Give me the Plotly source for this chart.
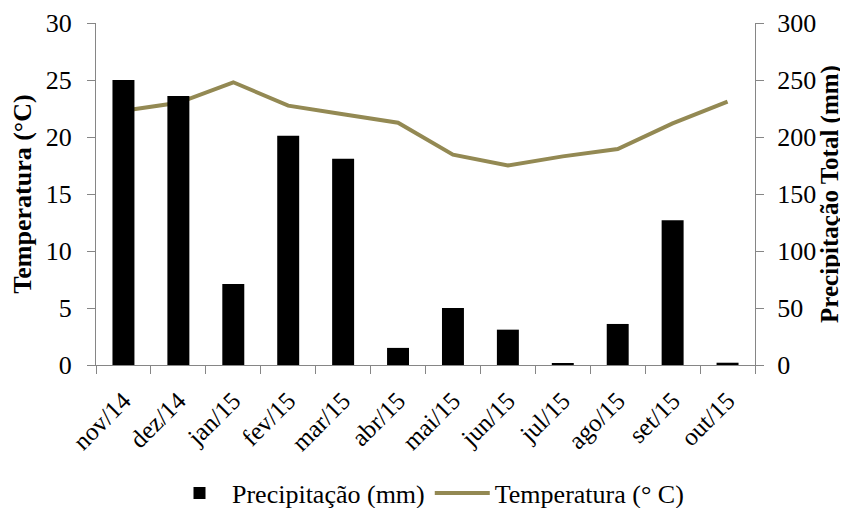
import plotly.graph_objects as go

months = ["nov/14", "dez/14", "jan/15", "fev/15", "mar/15", "abr/15",
          "mai/15", "jun/15", "jul/15", "ago/15", "set/15", "out/15"]
precip_mm = [250, 236, 71, 201, 181, 15, 50, 31, 1.5, 36, 127, 2]
temp_c = [22.3, 23.0, 24.8, 22.75, 22.0, 21.25, 18.45, 17.5, 18.3, 18.95, 21.2, 23.1]

FAM = "Liberation Serif"
AX = "#868686"
YTICK = dict(family=FAM, size=26, color="black")
XTICK = dict(family=FAM, size=25, color="black")

fig = go.Figure()
fig.add_trace(go.Bar(x=months, y=precip_mm, name="Precipitação (mm)",
                     marker=dict(color="black", line=dict(width=0)),
                     width=0.4, yaxis="y2"))
fig.add_trace(go.Scatter(x=months, y=temp_c, name="Temperatura (° C)",
                         mode="lines", line=dict(color="#938953", width=4),
                         yaxis="y"))

fig.update_layout(
    width=840, height=500,
    margin=dict(l=88, r=93, t=15, b=143, autoexpand=False),
    paper_bgcolor="white", plot_bgcolor="white",
    font=dict(family=FAM, size=24, color="black"),
    showlegend=True,
    legend=dict(orientation="h", x=0.5, xanchor="center", xref="container",
                y=0.03, yanchor="middle", yref="container",
                font=dict(family=FAM, size=26, color="black"),
                traceorder="normal", itemwidth=55),
    xaxis=dict(type="category", showline=True, linecolor=AX, linewidth=1,
               ticks="outside", tickson="boundaries", ticklen=8, tickcolor=AX,
               tickangle=-45, showgrid=False, tickfont=XTICK, automargin=False,
               ticklabelstandoff=10),
    yaxis=dict(range=[0, 30], tick0=0, dtick=5, showline=True, linecolor=AX,
               linewidth=1, ticks="outside", ticklen=8, tickcolor=AX,
               showgrid=False, zeroline=False, tickfont=YTICK, automargin=False,
               ticklabelstandoff=10,
               title=dict(text="<b>Temperatura (°C)</b>",
                          font=dict(family=FAM, size=26, color="black"),
                          standoff=8)),
    yaxis2=dict(range=[0, 300], tick0=0, dtick=50, overlaying="y", side="right",
                showline=True, linecolor=AX, linewidth=1, ticks="outside",
                ticklen=8, tickcolor=AX, showgrid=False, zeroline=False,
                tickfont=YTICK, automargin=False, ticklabelstandoff=8,
                title=dict(text="<b>Precipitação Total (mm)</b>",
                           font=dict(family=FAM, size=25, color="black"),
                           standoff=2)),
)

fig.write_html("out.html")
